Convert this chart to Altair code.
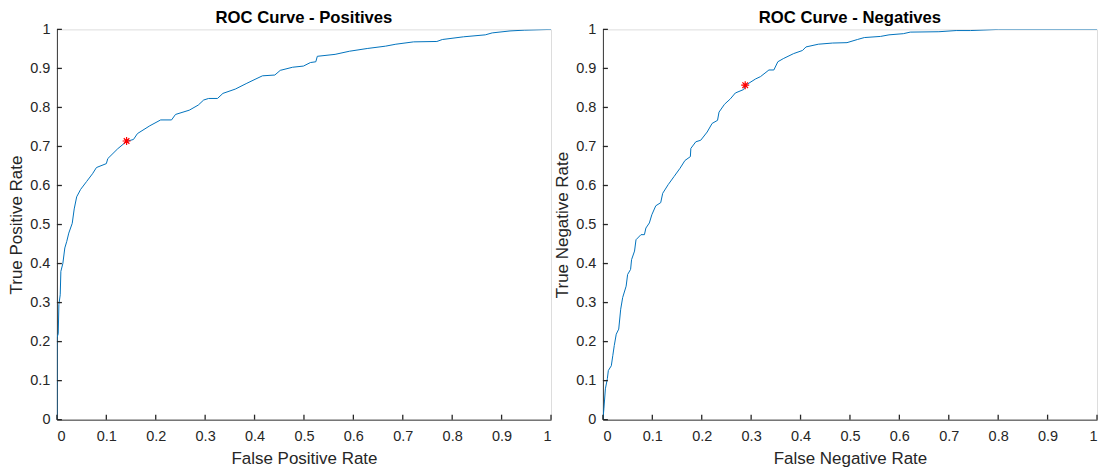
import altair as alt
import pandas as pd

# ---- data ----
pos_fpr = [0.0, 0.0, 0.0027, 0.004, 0.0067, 0.008, 0.012, 0.016, 0.02, 0.024, 0.031, 0.035,
           0.04, 0.048, 0.06, 0.072, 0.08, 0.1, 0.103, 0.123, 0.141, 0.155, 0.163, 0.188,
           0.21, 0.232, 0.24, 0.268, 0.286, 0.297, 0.307, 0.325, 0.336, 0.361, 0.383, 0.401,
           0.416, 0.441, 0.452, 0.477, 0.499, 0.513, 0.524, 0.527, 0.563, 0.592, 0.628, 0.665,
           0.686, 0.722, 0.769, 0.78, 0.823, 0.867, 0.881, 0.917, 0.946, 1.0]
pos_tpr = [0.0, 0.21, 0.22, 0.295, 0.32, 0.38, 0.40, 0.44, 0.457, 0.478, 0.503, 0.54,
           0.571, 0.59, 0.61, 0.63, 0.646, 0.656, 0.669, 0.694, 0.713, 0.718, 0.733, 0.753,
           0.768, 0.768, 0.782, 0.793, 0.806, 0.819, 0.823, 0.823, 0.836, 0.847, 0.861, 0.872,
           0.881, 0.883, 0.895, 0.903, 0.906, 0.915, 0.917, 0.931, 0.936, 0.944, 0.951, 0.957,
           0.962, 0.968, 0.969, 0.974, 0.981, 0.986, 0.991, 0.996, 0.998, 1.0]

neg_fnr = [0.0, 0.002, 0.005, 0.009, 0.011, 0.017, 0.02, 0.023, 0.027, 0.032, 0.036, 0.04,
           0.047, 0.05, 0.056, 0.058, 0.064, 0.067, 0.077, 0.084, 0.087, 0.094, 0.099, 0.107,
           0.117, 0.121, 0.132, 0.144, 0.156, 0.166, 0.177, 0.178, 0.188, 0.198, 0.211, 0.221,
           0.232, 0.235, 0.246, 0.258, 0.268, 0.285, 0.289, 0.309, 0.319, 0.336, 0.346, 0.354,
           0.365, 0.386, 0.404, 0.411, 0.436, 0.465, 0.494, 0.515, 0.529, 0.562, 0.579, 0.608,
           0.622, 0.68, 0.715, 0.744, 0.801, 1.0]
neg_tnr = [0.0, 0.028, 0.079, 0.105, 0.126, 0.138, 0.164, 0.19, 0.219, 0.232, 0.283, 0.313,
           0.342, 0.372, 0.385, 0.41, 0.432, 0.461, 0.474, 0.474, 0.491, 0.504, 0.525, 0.548,
           0.556, 0.58, 0.602, 0.623, 0.644, 0.664, 0.674, 0.695, 0.712, 0.716, 0.737, 0.759,
           0.767, 0.788, 0.808, 0.822, 0.837, 0.846, 0.857, 0.873, 0.879, 0.896, 0.896, 0.917,
           0.925, 0.938, 0.946, 0.955, 0.962, 0.965, 0.966, 0.974, 0.979, 0.982, 0.986, 0.989,
           0.993, 0.994, 0.997, 0.997, 1.0, 1.0]

pos_opt_x = [0.141]
pos_opt_y = [0.714]
neg_opt_x = [0.288]
neg_opt_y = [0.857]

tick_values = [0, 0.1, 0.2, 0.3, 0.4, 0.5, 0.6, 0.7, 0.8, 0.9, 1.0]

W, H = 495, 391
TICK = 5
FONT = "Liberation Sans"
AX = "#262626"
ASTERISK = "M-1,0L1,0M0,-1L0,1M-0.7,-0.7L0.7,0.7M-0.7,0.7L0.7,-0.7"


def panel(xv, yv, ox, oy, title, xtitle, ytitle):
    df = pd.DataFrame({"x": xv, "y": yv, "i": list(range(len(xv)))})
    star = pd.DataFrame({"x": ox, "y": oy})
    ticks = pd.DataFrame({"v": tick_values})
    sx = alt.Scale(domain=[0, 1], nice=False, zero=False)
    sy = alt.Scale(domain=[0, 1], nice=False, zero=False)
    common = dict(values=tick_values, format=".1~f", grid=False, ticks=False,
                  labelOverlap=False,
                  domainColor=AX, domainWidth=0.9,
                  labelFont=FONT, labelFontSize=14.5, labelColor=AX,
                  titleFont=FONT, titleFontSize=17, titleFontWeight="normal",
                  titleColor=AX)
    xaxis = alt.Axis(title=xtitle, labelPadding=10, titlePadding=7, **common)
    yaxis = alt.Axis(title=ytitle, labelPadding=7, titlePadding=4, **common)
    line = alt.Chart(df).mark_line(color="#0072BD", strokeWidth=1, clip=True).encode(
        x=alt.X("x:Q", scale=sx, axis=xaxis),
        y=alt.Y("y:Q", scale=sy, axis=yaxis),
        order="i:Q",
    )
    ytick = alt.Chart(ticks).mark_rule(color=AX, strokeWidth=1.3).encode(
        y=alt.Y("v:Q", scale=sy, axis=yaxis),
        x=alt.value(0), x2=alt.value(TICK),
    )
    xtick = alt.Chart(ticks).mark_rule(color=AX, strokeWidth=1.3).encode(
        x=alt.X("v:Q", scale=sx, axis=xaxis),
        y=alt.value(H), y2=alt.value(H - TICK),
    )
    pt = alt.Chart(star).mark_point(shape=ASTERISK, size=64, color="#FF0000",
                                    strokeWidth=1.2, filled=False, opacity=1).encode(
        x=alt.X("x:Q", scale=sx, axis=xaxis),
        y=alt.Y("y:Q", scale=sy, axis=yaxis),
    )
    return alt.layer(line, ytick, xtick, pt).properties(
        width=W, height=H,
        title=alt.TitleParams(title, font=FONT, fontSize=16.7, fontWeight="bold",
                              color="#000000", offset=-5, anchor="middle"),
    )


left = panel(pos_fpr, pos_tpr, pos_opt_x, pos_opt_y, "ROC Curve - Positives",
             "False Positive Rate", "True Positive Rate")
right = panel(neg_fnr, neg_tnr, neg_opt_x, neg_opt_y, "ROC Curve - Negatives",
              "False Negative Rate", "True Negative Rate")

chart = alt.hconcat(left, right, spacing=0).properties(
    padding={"left": -1, "top": 0, "right": 0, "bottom": 0}
).configure_view(stroke="transparent", strokeWidth=0).configure(background="#ffffff")

chart.save("out.html", embed_options={"renderer": "svg", "actions": False})
